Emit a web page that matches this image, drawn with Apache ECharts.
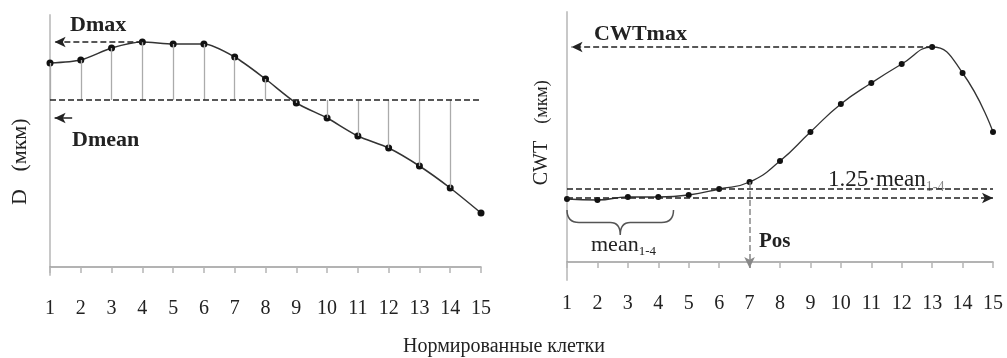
<!DOCTYPE html>
<html>
<head>
<meta charset="utf-8">
<script src="https://cdn.jsdelivr.net/npm/echarts@6/dist/echarts.min.js"></script>
<style>
  html, body { margin: 0; padding: 0; background: #fff; }
  #chart { width: 1007px; height: 358px; }
</style>
</head>
<body>
<div id="chart"></div>
<script>
  // нормированные клетки (ось X обеих панелей)
  var cells = [1, 2, 3, 4, 5, 6, 7, 8, 9, 10, 11, 12, 13, 14, 15];
  var cellLabels = ['1', '2', '3', '4', '5', '6', '7', '8', '9', '10', '11', '12', '13', '14', '15'];

  // левая панель: диаметр D (усл. ед.)
  var dValues = [204, 207, 219, 225, 223, 223, 210, 188, 164, 149, 131, 119, 101, 79, 54];
  var dMean = 167;

  // правая панель: толщина стенки CWT (усл. ед.)
  var cwtValues = [63, 62, 65, 65, 67, 73, 80, 101, 130, 158, 179, 198, 215, 189, 130];
  var cwtMean14 = 64;      // mean 1-4
  var cwtThreshold = 73;   // 1.25·mean 1-4
  var posCell = 7;
  var braceSpan = [1, 4.5];

  var serif = '"Liberation Serif", "DejaVu Serif", serif';
  var dMax = Math.max.apply(null, dValues);
  var cwtMax = Math.max.apply(null, cwtValues);

  function pairs(xs, ys) {
    return xs.map(function (x, i) { return [x, ys[i]]; });
  }

  var dashed = { type: 'dashed', color: '#222', width: 1.5 };
  var arrowEnd = { symbol: 'arrow', symbolSize: [8, 11] };

  function makeXAxis(gridIndex, margin) {
    return {
      type: 'value',
      gridIndex: gridIndex,
      min: 1,
      max: 15,
      interval: 1,
      axisLine: { onZero: true, lineStyle: { color: '#9a9a9a', width: 1.5 } },
      axisTick: { show: true, length: 6, lineStyle: { color: '#b5b5b5', width: 1.5 } },
      axisLabel: {
        margin: margin,
        fontFamily: serif,
        fontSize: 20,
        color: '#222',
        formatter: function (v) {
          var i = cells.indexOf(v);
          return i < 0 ? '' : cellLabels[i];
        }
      },
      splitLine: { show: false }
    };
  }

  function makeYAxis(gridIndex, min, max) {
    return {
      type: 'value',
      gridIndex: gridIndex,
      min: min,
      max: max,
      axisLine: { show: true, onZero: false, lineStyle: { color: '#c8c8c8', width: 2 } },
      axisTick: { show: false },
      axisLabel: { show: false },
      splitLine: { show: false }
    };
  }

  // вертикальные отрезки от точки до среднего (клетки 1-14)
  var dropLines = cells.slice(0, 14).map(function (c, i) {
    return [{ coord: [c, dValues[i]] }, { coord: [c, dMean] }];
  });

  var option = {
    backgroundColor: '#fff',
    animation: false,
    grid: [
      { left: 50, width: 431, top: 15, height: 260 },
      { left: 567, width: 426, top: 12, height: 268 }
    ],
    xAxis: [makeXAxis(0, 24), makeXAxis(1, 14)],
    yAxis: [makeYAxis(0, -8, 252), makeYAxis(1, -18, 250)],
    series: [
      {
        // серые вертикальные линии и среднее D
        type: 'line',
        xAxisIndex: 0,
        yAxisIndex: 0,
        data: [],
        z: 1,
        markLine: {
          silent: true,
          symbol: ['none', 'none'],
          label: { show: false },
          lineStyle: { type: 'solid', color: '#ababab', width: 1.3 },
          data: dropLines.concat([
            { yAxis: dMean, lineStyle: dashed }
          ])
        }
      },
      {
        name: 'D',
        type: 'line',
        xAxisIndex: 0,
        yAxisIndex: 0,
        data: pairs(cells, dValues),
        smooth: 0.25,
        symbol: 'circle',
        symbolSize: 7,
        clip: false,
        z: 3,
        itemStyle: { color: '#111' },
        lineStyle: { color: '#333', width: 1.5 },
        markLine: {
          silent: true,
          symbol: ['none', 'none'],
          label: { show: false },
          lineStyle: dashed,
          data: [
            [{ coord: [4, dMax] }, Object.assign({ coord: [1.15, dMax] }, arrowEnd)],
            [{ coord: [1.72, 149], lineStyle: { type: 'solid', color: '#222', width: 1.5 } },
             Object.assign({ coord: [1.15, 149] }, arrowEnd)]
          ]
        }
      },
      {
        // mean 1-4 со стрелкой справа
        type: 'line',
        xAxisIndex: 1,
        yAxisIndex: 1,
        data: [],
        z: 2,
        markLine: {
          silent: true,
          symbol: ['none', 'arrow'],
          symbolSize: [8, 11],
          label: { show: false },
          lineStyle: dashed,
          data: [{ yAxis: cwtMean14 }]
        }
      },
      {
        name: 'CWT',
        type: 'line',
        xAxisIndex: 1,
        yAxisIndex: 1,
        data: pairs(cells, cwtValues),
        smooth: 0.5,
        symbol: 'circle',
        symbolSize: 6,
        clip: false,
        z: 3,
        itemStyle: { color: '#111' },
        lineStyle: { color: '#333', width: 1.3 },
        markLine: {
          silent: true,
          symbol: ['none', 'none'],
          label: { show: false },
          lineStyle: dashed,
          data: [
            { yAxis: cwtThreshold },
            [{ coord: [13, cwtMax] }, Object.assign({ coord: [1.15, cwtMax] }, arrowEnd)],
            [{ coord: [posCell, cwtValues[posCell - 1]], lineStyle: { type: 'dashed', color: '#888', width: 1.5 } },
             Object.assign({ coord: [posCell, -6], itemStyle: { color: '#222' } }, arrowEnd)]
          ]
        }
      },
      {
        // фигурная скобка под клетками 1-4
        type: 'custom',
        xAxisIndex: 1,
        yAxisIndex: 1,
        clip: false,
        silent: true,
        data: [braceSpan],
        renderItem: function (params, api) {
          var a = api.coord([api.value(0), 52]);
          var b = api.coord([api.value(1), 52]);
          var t = api.coord([(api.value(0) + api.value(1)) / 2, 27]);
          var x0 = a[0], x1 = b[0], yt = a[1], yb = t[1], xc = t[0];
          var ym = yt + (yb - yt) * 0.5;
          var d = 'M' + x0 + ' ' + yt +
            ' Q' + x0 + ' ' + ym + ' ' + (x0 + 12) + ' ' + ym +
            ' L' + (xc - 10) + ' ' + ym +
            ' Q' + xc + ' ' + ym + ' ' + xc + ' ' + yb +
            ' Q' + xc + ' ' + ym + ' ' + (xc + 10) + ' ' + ym +
            ' L' + (x1 - 12) + ' ' + ym +
            ' Q' + x1 + ' ' + ym + ' ' + x1 + ' ' + yt;
          return {
            type: 'path',
            shape: { pathData: d },
            style: { fill: 'none', stroke: '#555', lineWidth: 1.5 }
          };
        }
      }
    ],
    graphic: [
      {
        type: 'text', x: 70, y: 25,
        style: { text: 'Dmax', font: 'bold 22px ' + serif, fill: '#222', verticalAlign: 'middle' }
      },
      {
        type: 'text', x: 72, y: 140,
        style: { text: 'Dmean', font: 'bold 22px ' + serif, fill: '#222', verticalAlign: 'middle' }
      },
      {
        type: 'text', x: 594, y: 34,
        style: { text: 'CWTmax', font: 'bold 22px ' + serif, fill: '#222', verticalAlign: 'middle' }
      },
      {
        type: 'text', x: 759, y: 242,
        style: { text: 'Pos', font: 'bold 21px ' + serif, fill: '#222', verticalAlign: 'middle' }
      },
      {
        type: 'text', x: 591, y: 245,
        style: {
          text: '{m|mean}{s|1-4}',
          fill: '#222',
          verticalAlign: 'middle',
          rich: {
            m: { fontFamily: serif, fontSize: 22, fill: '#222' },
            s: { fontFamily: serif, fontSize: 13, fill: '#222', padding: [14, 0, 0, 0] }
          }
        }
      },
      {
        type: 'text', x: 828, y: 180,
        style: {
          text: '{m|1.25·mean}{s|1-4}',
          fill: '#222',
          verticalAlign: 'middle',
          rich: {
            m: { fontFamily: serif, fontSize: 23, fill: '#222' },
            s: { fontFamily: serif, fontSize: 14, fill: '#888', padding: [14, 0, 0, 0] }
          }
        }
      },
      {
        type: 'text', x: 20, y: 197, rotation: Math.PI / 2,
        style: { text: 'D', font: '22px ' + serif, fill: '#222', align: 'center', verticalAlign: 'middle' }
      },
      {
        type: 'text', x: 20, y: 145, rotation: Math.PI / 2,
        style: { text: '(мкм)', font: '22px ' + serif, fill: '#222', align: 'center', verticalAlign: 'middle' }
      },
      {
        type: 'text', x: 542, y: 163, rotation: Math.PI / 2,
        style: { text: 'CWT', font: '20px ' + serif, fill: '#222', align: 'center', verticalAlign: 'middle' }
      },
      {
        type: 'text', x: 542, y: 102, rotation: Math.PI / 2,
        style: { text: '(мкм)', font: '18px ' + serif, fill: '#222', align: 'center', verticalAlign: 'middle' }
      },
      {
        type: 'text', x: 504, y: 347,
        style: {
          text: 'Нормированные клетки',
          font: '20px ' + serif,
          fill: '#222',
          align: 'center',
          verticalAlign: 'middle'
        }
      }
    ]
  };

  var chart = echarts.init(document.getElementById('chart'));
  chart.setOption(option);
  window.addEventListener('resize', function () { chart.resize(); });
</script>
</body>
</html>
